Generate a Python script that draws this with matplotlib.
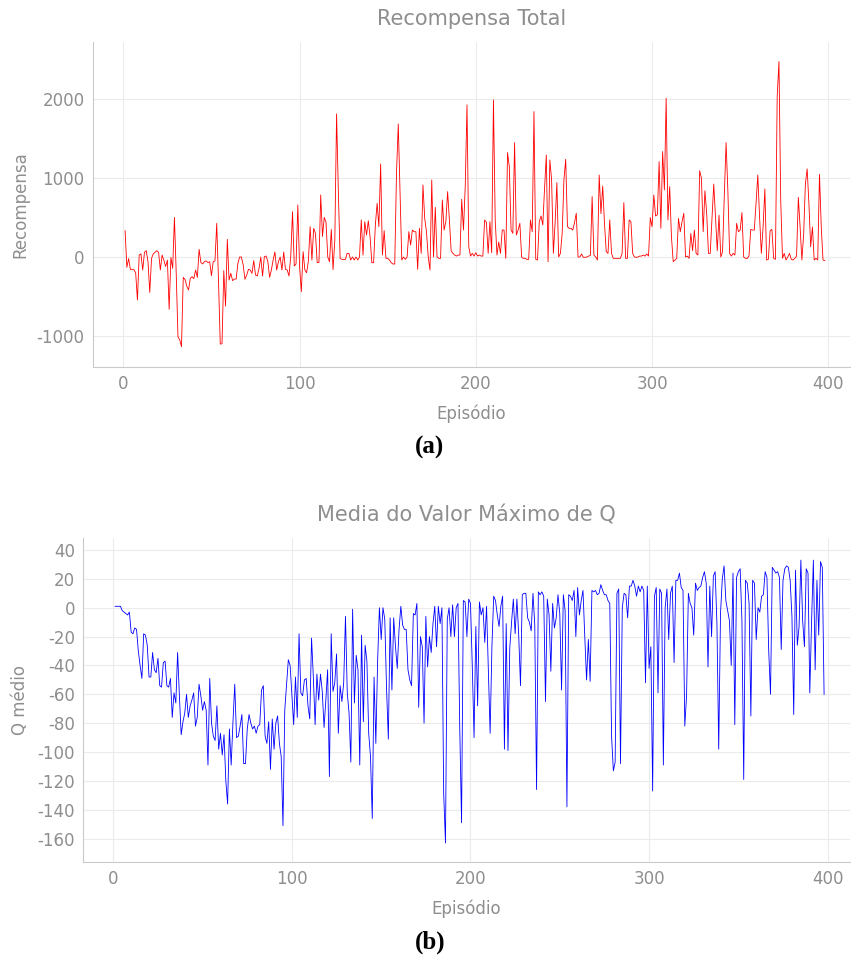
import matplotlib

matplotlib.use("Agg")
import matplotlib.pyplot as plt
import numpy as np

# Recompensa total por episódio
recompensa = [
    334, -131, -20, -156, -156, -160, -200, -545, 25, 40,
    -165, 60, 80, -60, -450, -17, 40, 60, 80, 60,
    -165, 25, -40, -120, -40, -664, -5, -144, 503, -200,
    -1011, -1050, -1138, -258, -285, -370, -419, -270, -250, -275,
    -165, -258, 97, -70, -88, -60, -50, -70, -60, -237,
    -59, -50, 427, -300, -1104, -1100, -173, -622, 224, -292,
    -207, -300, -280, -280, -80, 0, 0, -100, -283, -228,
    -156, -165, -207, -46, -228, -241, -144, 0, -241, 4,
    12, -59, -258, -165, -38, 63, -165, -59, 0, -165,
    63, -156, -165, -241, 12, 575, -114, -89, 660, -123,
    -440, 68, -165, -200, -50, 385, -40, 364, 300, -70,
    -70, 787, 260, 503, 440, 0, -60, 350, -160, 215,
    1815, 830, -17, -30, -30, -30, 46, 46, -38, 0,
    -38, 0, -38, 0, 470, 25, 448, 279, 460, 258,
    -72, -72, 406, 681, 385, 1180, 25, 334, -17, -17,
    -38, -72, -89, -89, 1066, 1688, 800, -38, 0, -30,
    0, 321, 152, 342, 321, 321, -156, 364, 46, 914,
    490, 321, 0, -165, 977, 0, 630, 0, -17, -17,
    723, 342, 448, 829, 469, 80, 46, 25, 12, 25,
    25, 732, 342, 900, 1929, 130, 12, 46, 12, 55,
    12, 25, 12, 12, 470, 440, 46, 448, 55, 1992,
    470, 25, 190, 46, 342, 342, -17, 1324, 1146, 342,
    300, 1451, 279, 342, 427, -4, -17, -17, -30, -30,
    470, 321, 1844, -30, -38, 448, 520, 406, 870, 1294,
    -59, 1231, 980, 46, 436, 943, 0, 46, 300, 980,
    1239, 385, 364, 364, 342, 436, 554, 0, 0, 38,
    -4, -4, 0, 12, 20, 766, 25, 0, -38, 1040,
    550, 900, 427, 68, 46, 470, 46, -17, -17, -17,
    -17, -17, 46, 690, -17, -17, 470, 448, 46, 0,
    -4, 0, 12, 12, 25, 12, 38, 12, 500, 385,
    787, 520, 535, 1210, 364, 1337, 850, 2013, 470, 892,
    258, -59, -40, -17, 490, 320, 448, 554, 0, 12,
    -17, 300, 80, 342, 46, 25, 1095, 1000, 320, 840,
    554, 46, 46, 500, 926, 510, 80, 530, 0, 68,
    785, 1451, 850, 46, 12, 46, 25, 427, 321, 342,
    563, 0, -17, -17, 12, 350, 342, 342, 680, 1040,
    510, 46, 380, 863, -38, -30, 335, 350, -17, -30,
    2035, 2479, 723, -17, 46, -38, 0, 46, -30, -38,
    -17, 12, 757, 380, -38, 280, 930, 1117, 680, 130,
    380, -38, -17, -38, 1049, 380, -38, -46,
]

# Média do valor máximo de Q por episódio
q_medio = [
    1, 1, 1, 1, -2, -3, -4, -5, -3, -17,
    -18, -14, -15, -30, -40, -49, -18, -19, -26, -48,
    -48, -31, -43, -45, -35, -54, -55, -38, -37, -54,
    -55, -49, -76, -59, -66, -31, -61, -88, -79, -73,
    -60, -76, -68, -64, -59, -82, -76, -53, -61, -71,
    -65, -71, -109, -49, -80, -89, -92, -68, -98, -87,
    -102, -88, -120, -136, -84, -109, -79, -53, -90, -89,
    -82, -74, -108, -108, -84, -74, -80, -84, -82, -87,
    -82, -81, -57, -54, -89, -94, -79, -112, -77, -98,
    -80, -75, -94, -103, -151, -71, -53, -36, -40, -61,
    -81, -48, -76, -18, -59, -61, -50, -49, -68, -77,
    -21, -48, -81, -46, -64, -46, -58, -83, -64, -43,
    -117, -18, -58, -52, -32, -87, -54, -65, -52, -6,
    -59, -73, -107, -1, -66, -33, -43, -109, -19, -79,
    -26, -37, -87, -103, -146, -48, -94, -37, 0, -22,
    0, -8, -56, -91, -7, -57, -7, -27, -42, -15,
    1, -12, -15, -15, -43, -50, -54, -4, -5, 3,
    -69, -20, -27, -80, -6, -41, -20, -31, -11, 1,
    -27, 1, -11, 0, -129, -163, -8, 0, -20, 2,
    -20, 0, 3, -84, -149, 5, 4, -20, 6, 3,
    -40, -90, -13, -68, 4, -5, 0, -24, 1, -43,
    -87, -27, 8, 5, -5, -13, 1, 8, -98, -11,
    -99, -28, -10, 6, -18, 6, -19, -54, 9, 10,
    10, -7, -10, -16, 10, -12, -126, 11, 9, 11,
    8, -65, 6, -5, -44, 3, -14, -7, 9, -4,
    -57, 9, -2, -138, 9, 8, 5, 12, -20, 14,
    -5, 5, 12, -20, -50, -22, -51, 12, 11, 12,
    9, 10, 16, 12, 9, 9, 5, 3, -89, -113,
    -107, 10, 13, -108, 0, 10, 9, -7, 15, 15,
    19, 15, 8, 15, 11, 15, 12, -52, 15, -42,
    -27, -127, 8, 14, -59, 13, 10, -109, 0, 13,
    -22, 10, 15, -38, 19, 19, 24, 14, 12, -82,
    -61, 10, 3, 0, -19, 17, 12, 14, 15, 21,
    25, 17, -41, 15, -20, 22, 25, -11, -98, -4,
    20, 29, 5, -2, -9, -40, 24, -81, 21, 25,
    27, -9, -119, 19, 17, 3, -75, 19, 17, -22,
    0, -3, 8, 9, 25, 21, -30, -60, 28, 26,
    24, 25, 21, -29, 19, 27, 29, 28, 19, -6,
    -74, 26, -26, -13, 33, -9, -27, 27, 24, -59,
    -9, 33, -43, 19, -19, 32, 28, -60,
]

r_ticks = [-1000, 0, 1000, 2000]
q_ticks = list(range(-160, 41, 20))
x_ticks = [0, 100, 200, 300, 400]

TEXT = "#8e8e8e"
GRID = "#ebebeb"
SPINE = "#c9c9c9"

plt.rcParams["font.family"] = ["DejaVu Sans"]
plt.rcParams["axes.unicode_minus"] = False


def style_axes(ax):
    for side in ("top", "right"):
        ax.spines[side].set_visible(False)
    for side in ("left", "bottom"):
        ax.spines[side].set_color(SPINE)
        ax.spines[side].set_linewidth(0.8)
    ax.grid(True, color=GRID, linewidth=0.8)
    ax.set_axisbelow(True)
    ax.tick_params(length=0, labelsize=12, labelcolor=TEXT, pad=6)
    ax.set_xticks(x_ticks)


fig = plt.figure(figsize=(8.51, 9.56), dpi=100)

# (a) recompensa total
ax1 = fig.add_axes([0.1093, 0.6161, 0.8895, 0.3400])
ep_r = np.arange(1, len(recompensa) + 1)
ax1.plot(ep_r, recompensa, color="red", linewidth=0.6)
style_axes(ax1)
ax1.set_yticks(r_ticks)
ax1.set_xlim(-17.2, 412.3)
ax1.set_ylim(-1395, 2727)
ax1.text(0.5, 1.07, "Recompensa Total", transform=ax1.transAxes,
         ha="center", va="center", fontsize=15, color=TEXT)
ax1.set_xlabel("Episódio", fontsize=12, color=TEXT)
ax1.set_ylabel("Recompensa", fontsize=12, color=TEXT)
ax1.xaxis.set_label_coords(0.5, -0.114)
ax1.yaxis.set_label_coords(-0.0845, 0.5)

# (b) média do valor máximo de Q
ax2 = fig.add_axes([0.0979, 0.0983, 0.9009, 0.3389])
ep_q = np.arange(1, len(q_medio) + 1)
ax2.plot(ep_q, q_medio, color="blue", linewidth=0.6)
style_axes(ax2)
ax2.set_yticks(q_ticks)
ax2.set_xlim(-16.8, 412.5)
ax2.set_ylim(-176.2, 48.3)
ax2.text(0.5, 1.07, "Media do Valor Máximo de Q", transform=ax2.transAxes,
         ha="center", va="center", fontsize=15, color=TEXT)
ax2.set_xlabel("Episódio", fontsize=12, color=TEXT)
ax2.set_ylabel("Q médio", fontsize=12, color=TEXT)
ax2.xaxis.set_label_coords(0.5, -0.117)
ax2.yaxis.set_label_coords(-0.0708, 0.5)

fig.text(430 / 851, 1 - 447 / 956, "(a)", ha="center", va="center",
         fontsize=18, fontweight="bold", family="Liberation Serif")
fig.text(430 / 851, 1 - 942 / 956, "(b)", ha="center", va="center",
         fontsize=18, fontweight="bold", family="Liberation Serif")

fig.savefig("out.png", dpi=100)
plt.close(fig)
